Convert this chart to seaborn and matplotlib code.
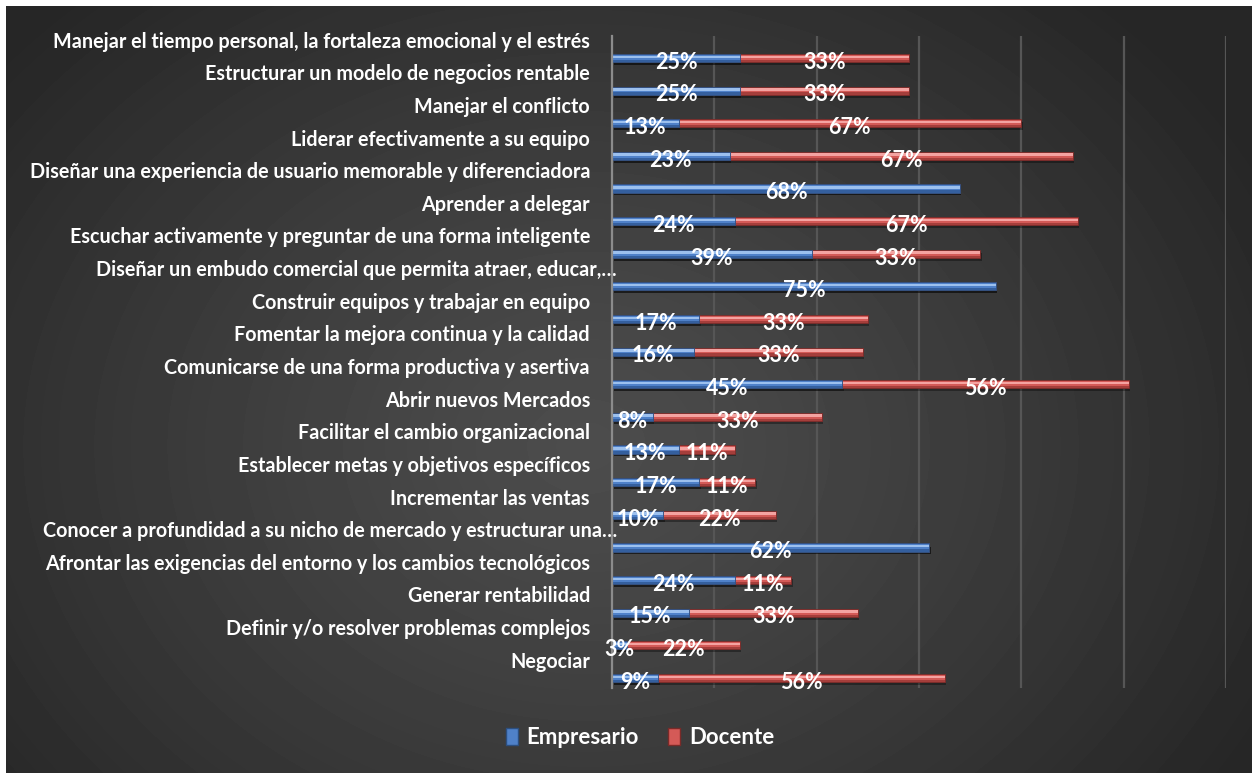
import numpy as np
import matplotlib
matplotlib.use("Agg")
import matplotlib.pyplot as plt
import matplotlib.transforms as mtransforms
from matplotlib.patches import Rectangle, Patch
import pandas as pd
import seaborn as sns

# Competencias evaluadas (de arriba hacia abajo)
categories = [
    "Manejar el tiempo personal, la fortaleza emocional y el estrés",
    "Estructurar un modelo de negocios rentable",
    "Manejar el conflicto",
    "Liderar efectivamente a su equipo",
    "Diseñar una experiencia de usuario memorable y diferenciadora",
    "Aprender a delegar",
    "Escuchar activamente y preguntar de una forma inteligente",
    "Diseñar un embudo comercial que permita atraer, educar,…",
    "Construir equipos y trabajar en equipo",
    "Fomentar la mejora continua y la calidad",
    "Comunicarse de una forma productiva y asertiva",
    "Abrir nuevos Mercados",
    "Facilitar el cambio organizacional",
    "Establecer metas y objetivos específicos",
    "Incrementar las ventas",
    "Conocer a profundidad a su nicho de mercado y estructurar una…",
    "Afrontar las exigencias del entorno y los cambios tecnológicos",
    "Generar rentabilidad",
    "Definir y/o resolver problemas complejos",
    "Negociar",
]
empresario = [25, 25, 13, 23, 68, 24, 39, 75, 17, 16, 45, 8, 13, 17, 10, 62, 24, 15, 3, 9]
docente = [33, 33, 67, 67, 0, 67, 33, 0, 33, 33, 56, 33, 11, 11, 22, 0, 11, 33, 22, 56]
series = ["Empresario", "Docente"]
x_ticks = [0, 20, 40, 60, 80, 100, 120]

BLUE = "#4f81c9"
BLUE_HI = "#9cc0ee"
RED = "#d45a57"
RED_HI = "#f4a3a1"

sns.set_theme(style="white")
plt.rcParams["font.family"] = ["Lato", "DejaVu Sans"]
CAT_SIZE = 14.2
VAL_SIZE = 15.5
LEG_SIZE = 16.0

W, H = 1252, 773
fig = plt.figure(figsize=(W / 100, H / 100), dpi=100)
fig.patch.set_facecolor("white")

# dark gradient panel behind the chart
bg = fig.add_axes([6 / W, 0, 1 - 6 / W, 1 - 6 / H])
ph, pw = 767, 1246
yy, xx = np.mgrid[0:ph, 0:pw]
r = np.hypot((xx - 580) / 1.0, (yy - 440) / 0.8)
t = np.clip(r / 760, 0, 1)
shade = 0.300 - (0.300 - 0.150) * t ** 1.2
bg.imshow(shade, cmap="gray", vmin=0, vmax=1, aspect="auto",
          extent=(0, pw, ph, 0), interpolation="bilinear")
bg.set_axis_off()

# plot area
top_px, bot_px, left_px, right_px = 36, 688, 612, 1226
ax = fig.add_axes([left_px / W, 1 - bot_px / H, (right_px - left_px) / W, (bot_px - top_px) / H])
ax.set_facecolor("none")

df = pd.DataFrame({"categoria": categories, "Empresario": empresario, "Docente": docente})
df["total"] = df["Empresario"] + df["Docente"]

bar_w = 0.25
sns.barplot(data=df, y="categoria", x="total", color=RED, saturation=1,
            width=bar_w, orient="h", ax=ax, zorder=3)
n_red = len(ax.patches)
sns.barplot(data=df, y="categoria", x="Empresario", color=BLUE, saturation=1,
            width=bar_w, orient="h", ax=ax, zorder=5)

# cylinder-like shading: drop shadow, dark lower edge and light upper stripe
for k, p in enumerate(list(ax.patches)):
    is_red = k < n_red
    x0, y0 = p.get_x(), p.get_y()
    w, h = p.get_width(), p.get_height()
    if w <= 0:
        continue
    z = p.get_zorder()
    p.set_edgecolor("#7a2a28" if is_red else "#2c4f80")
    p.set_linewidth(0.6)
    ax.add_patch(Rectangle((x0 + 0.3, y0 + h * 0.4), w, h * 0.95,
                           facecolor="black", alpha=0.35, lw=0, zorder=2))
    ax.add_patch(Rectangle((x0, y0 + h * 0.2), w, h * 0.3,
                           facecolor=RED_HI if is_red else BLUE_HI, lw=0, zorder=z + 0.1))
    ax.add_patch(Rectangle((x0, y0 + h * 0.72), w, h * 0.28,
                           facecolor="#a53e3b" if is_red else "#345f9e", lw=0, zorder=z + 0.1))

px_per_row = 32.63
ax.set_ylim((bot_px - 58) / px_per_row, -(58 - top_px) / px_per_row)
ax.set_xlim(0, 120)
ax.set_xticks(x_ticks)
ax.set_xticklabels([])
ax.set_yticks([])
ax.set_xlabel("")
ax.set_ylabel("")
ax.tick_params(length=0)
ax.xaxis.grid(True, color="#565656", lw=1.6, zorder=0)
ax.set_axisbelow(True)
for s in ["top", "right", "bottom"]:
    ax.spines[s].set_visible(False)
ax.spines["left"].set_color("#8c8c8c")
ax.spines["left"].set_linewidth(1.6)
ax.spines["left"].set_zorder(6)

# category labels sit above each bar
lab_tr = mtransforms.blended_transform_factory(fig.transFigure, ax.transData)
for i, name in enumerate(categories):
    x_end = 617 if name.endswith("…") else 590
    ax.text(x_end / W, i - 0.5, name, transform=lab_tr, ha="right", va="center",
            color="white", fontsize=CAT_SIZE, fontweight="bold", clip_on=False)

# value labels centred on each segment
for i, (e, d) in enumerate(zip(empresario, docente)):
    if e > 0:
        ax.text(e / 2, i + 0.13, f"{e}%", ha="center", va="center", color="white",
                fontsize=VAL_SIZE, fontweight="bold", zorder=10)
    if d > 0:
        ax.text(e + d / 2, i + 0.13, f"{d}%", ha="center", va="center", color="white",
                fontsize=VAL_SIZE, fontweight="bold", zorder=10)

handles = [Patch(facecolor=BLUE, edgecolor="#2c4f80"), Patch(facecolor=RED, edgecolor="#7a2a28")]
fig.legend(handles, series, loc="center", bbox_to_anchor=(640 / W, 1 - 738 / H), ncol=2,
           frameon=False, labelcolor="white", prop={"weight": "bold", "size": LEG_SIZE},
           handlelength=0.55, handleheight=0.8, handletextpad=0.4, columnspacing=1.3)

fig.savefig("out.png", dpi=100, facecolor=fig.get_facecolor())
